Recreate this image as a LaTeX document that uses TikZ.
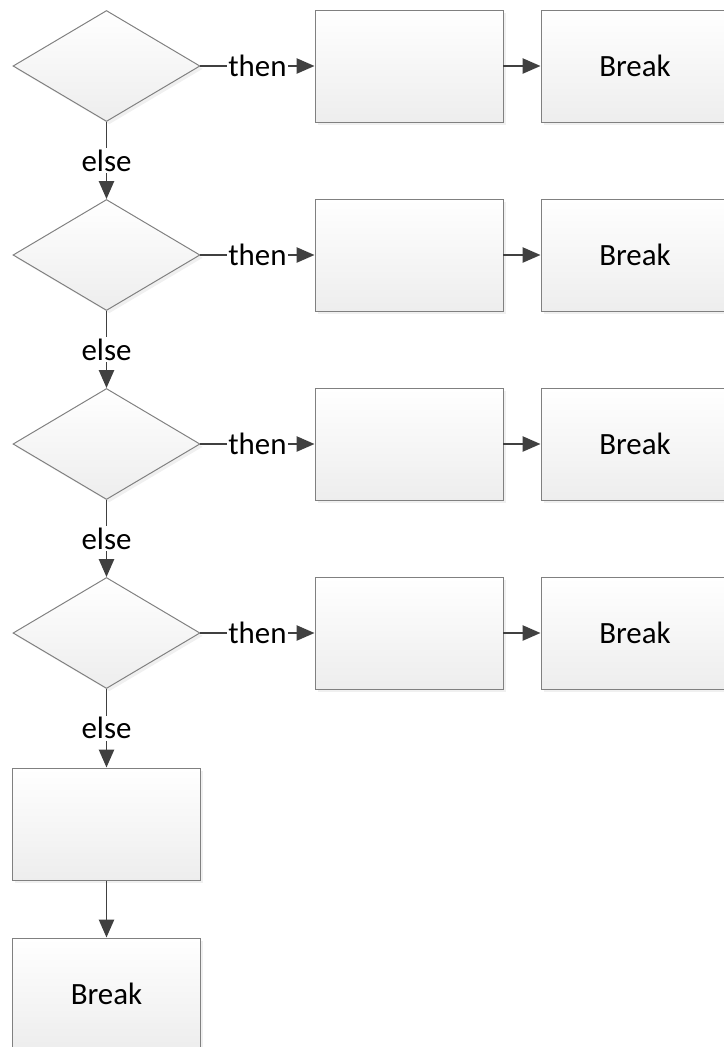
\documentclass[tikz,border=0pt]{standalone}
\usepackage{fontspec}
\setmainfont{Carlito}
\usetikzlibrary{arrows.meta, shapes, shadows, positioning}

\tikzset{
    cond/.style={diamond, draw=black!50, line width=0.7pt, inner sep=0pt,
        minimum width=4.675cm, minimum height=2.775cm, aspect=1.68,
        top color=white, bottom color=black!7,
        drop shadow={opacity=0.12, shadow xshift=2pt, shadow yshift=-2pt}},
    stmt/.style={rectangle, draw=black!50, line width=0.7pt, inner sep=0pt,
        minimum width=4.7cm, minimum height=2.8cm,
        top color=white, bottom color=black!7,
        drop shadow={opacity=0.12, shadow xshift=2pt, shadow yshift=-2pt}},
    flow/.style={draw=black!75, line width=1.4pt,
        -{Triangle[length=4.5mm, width=3.8mm]}},
    lbl/.style={fill=white, inner sep=1pt}
}

\begin{document}
\begin{tikzpicture}[font=\fontsize{22}{26}\selectfont]
        % Fix the page size
        \useasboundingbox (0,0) rectangle (18.1,-26.175);

        % Add the conditions down the left side
        \node[cond] (c1) at (2.6625,-1.65) {};
        \node[cond] (c2) at (2.6625,-6.375) {};
        \node[cond] (c3) at (2.6625,-11.1) {};
        \node[cond] (c4) at (2.6625,-15.825) {};

        % Add the branch bodies
        \node[stmt] (b1) at (10.225,-1.65) {};
        \node[stmt] (b2) at (10.225,-6.375) {};
        \node[stmt] (b3) at (10.225,-11.1) {};
        \node[stmt] (b4) at (10.225,-15.825) {};

        % Add the breaks after each body
        \node[stmt] (k1) at (15.875,-1.65) {Break};
        \node[stmt] (k2) at (15.875,-6.375) {Break};
        \node[stmt] (k3) at (15.875,-11.1) {Break};
        \node[stmt] (k4) at (15.875,-15.825) {Break};

        % Add the default body and its break
        \node[stmt] (d) at (2.6625,-20.6) {};
        \node[stmt] (dk) at (2.6625,-24.85) {Break};

        % Draw the then branches
        \draw[flow] (c1.east) -- node[lbl] {then} (b1.west);
        \draw[flow] (c2.east) -- node[lbl] {then} (b2.west);
        \draw[flow] (c3.east) -- node[lbl] {then} (b3.west);
        \draw[flow] (c4.east) -- node[lbl] {then} (b4.west);

        \draw[flow] (b1.east) -- (k1.west);
        \draw[flow] (b2.east) -- (k2.west);
        \draw[flow] (b3.east) -- (k3.west);
        \draw[flow] (b4.east) -- (k4.west);

        % Draw the else chain
        \draw[flow] (c1.south) -- node[lbl] {else} (c2.north);
        \draw[flow] (c2.south) -- node[lbl] {else} (c3.north);
        \draw[flow] (c3.south) -- node[lbl] {else} (c4.north);
        \draw[flow] (c4.south) -- node[lbl] {else} (d.north);
        \draw[flow] (d.south) -- (dk.north);
    \end{tikzpicture}
\end{document}
